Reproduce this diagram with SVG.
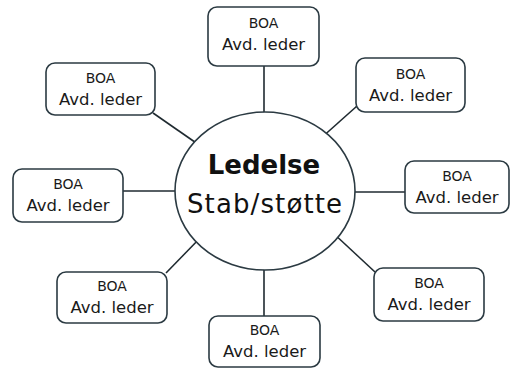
<svg xmlns="http://www.w3.org/2000/svg" width="511" height="369" viewBox="0 0 511 369">
  <style>
    .box { fill: #ffffff; stroke: #2b3a42; stroke-width: 1.6; }
    .conn { stroke: #1f2a30; stroke-width: 1.6; fill: none; }
    .t1 { font-family: "DejaVu Sans", sans-serif; font-size: 14px; fill: #1a1a1a; text-anchor: middle; }
    .t2 { font-family: "DejaVu Sans", sans-serif; font-size: 16.5px; fill: #1a1a1a; text-anchor: middle; }
  </style>
  <rect width="511" height="369" fill="#ffffff"/>
  <g id="connectors">
    <line class="conn" x1="264" y1="66" x2="264" y2="120"/>
    <line class="conn" x1="357" y1="106" x2="320" y2="139"/>
    <line class="conn" x1="405" y1="192" x2="345" y2="192"/>
    <line class="conn" x1="375" y1="272" x2="332" y2="232"/>
    <line class="conn" x1="264" y1="316" x2="264" y2="260"/>
    <line class="conn" x1="166" y1="273" x2="202" y2="236"/>
    <line class="conn" x1="123" y1="191" x2="185" y2="191"/>
    <line class="conn" x1="153" y1="113" x2="202" y2="147"/>
  </g>
  <g id="center">
    <ellipse cx="265" cy="191" rx="90" ry="79" fill="#ffffff" stroke="#2b3a42" stroke-width="1.6"/>
    <text x="264" y="174" font-family="DejaVu Sans, sans-serif" font-size="26" font-weight="bold" fill="#111" text-anchor="middle">Ledelse</text>
    <text x="264.5" y="213" font-family="DejaVu Sans, sans-serif" font-size="26" fill="#111" text-anchor="middle" textLength="155" lengthAdjust="spacing">Stab/støtte</text>
  </g>
  <g id="n-top">
    <rect class="box" x="208" y="7" width="111" height="59" rx="9"/>
    <text class="t1" x="263.5" y="28">BOA</text>
    <text class="t2" x="263.5" y="50">Avd. leder</text>
  </g>
  <g id="n-topright">
    <rect class="box" x="356" y="58" width="109" height="54" rx="9"/>
    <text class="t1" x="410.5" y="79">BOA</text>
    <text class="t2" x="410.5" y="101">Avd. leder</text>
  </g>
  <g id="n-right">
    <rect class="box" x="405" y="161" width="104" height="52" rx="9"/>
    <text class="t1" x="457" y="181">BOA</text>
    <text class="t2" x="457" y="203">Avd. leder</text>
  </g>
  <g id="n-bottomright">
    <rect class="box" x="374" y="268" width="110" height="53" rx="9"/>
    <text class="t1" x="429" y="288">BOA</text>
    <text class="t2" x="429" y="310">Avd. leder</text>
  </g>
  <g id="n-bottom">
    <rect class="box" x="209" y="316" width="111" height="51" rx="9"/>
    <text class="t1" x="264.5" y="335">BOA</text>
    <text class="t2" x="264.5" y="357">Avd. leder</text>
  </g>
  <g id="n-bottomleft">
    <rect class="box" x="57" y="272" width="110" height="51" rx="9"/>
    <text class="t1" x="112" y="291">BOA</text>
    <text class="t2" x="112" y="313">Avd. leder</text>
  </g>
  <g id="n-left">
    <rect class="box" x="13" y="169" width="110" height="53" rx="9"/>
    <text class="t1" x="68" y="189">BOA</text>
    <text class="t2" x="68" y="211">Avd. leder</text>
  </g>
  <g id="n-topleft">
    <rect class="box" x="46" y="63" width="109" height="52" rx="9"/>
    <text class="t1" x="100.5" y="83">BOA</text>
    <text class="t2" x="100.5" y="105">Avd. leder</text>
  </g>
</svg>
